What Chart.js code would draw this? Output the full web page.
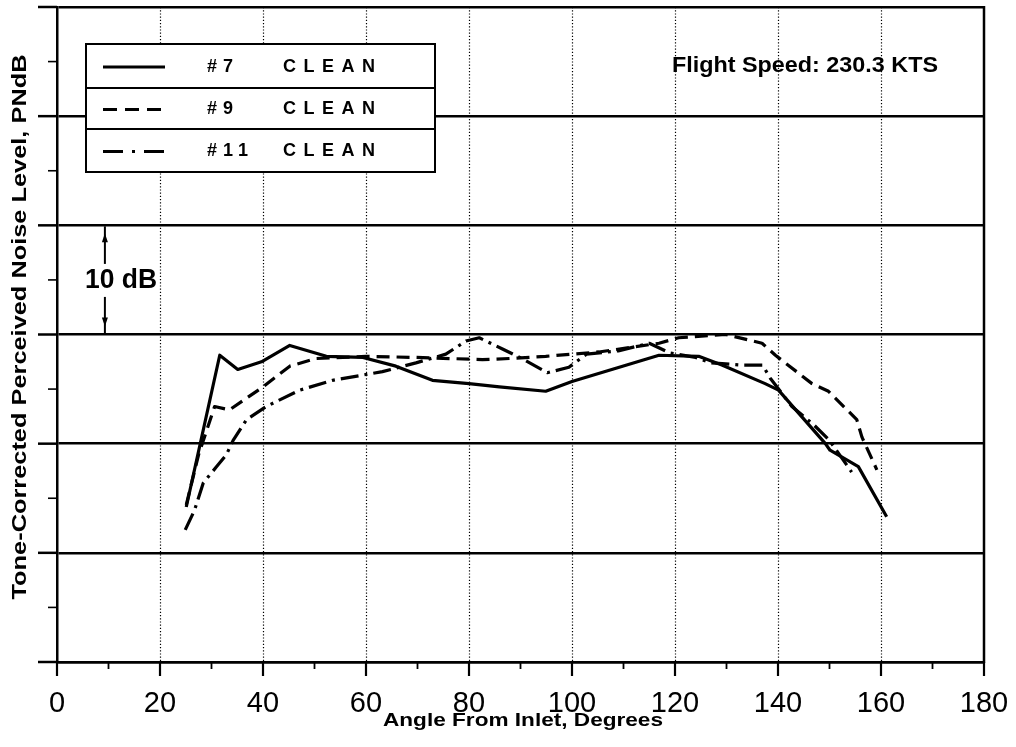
<!DOCTYPE html>
<html><head><meta charset="utf-8">
<script src="https://cdn.jsdelivr.net/npm/chart.js@4.4.1/dist/chart.umd.min.js"></script>
<style>html,body{margin:0;padding:0;background:#fff}#wrap{width:1016px;height:747px;position:relative}</style>
</head><body><div id="wrap"><canvas id="c"></canvas></div>
<script>
// ---- data (angle from inlet, degrees ; relative tone-corrected PNL, dB) ----
const angle7 = [25.1, 31.6, 35.1, 39.7, 45.2, 52.3, 59.4, 65.8, 72.9, 80, 85.9, 94.9, 100, 116.9, 124.6, 129.1, 137.5, 140.1, 144, 149.2, 150.1, 155.6, 161.1];
const level7 = [14.2, 28.1, 26.8, 27.5, 29.0, 28.0, 27.9, 27.1, 25.8, 25.5, 25.2, 24.8, 25.7, 28.1, 28.0, 27.2, 25.5, 24.9, 22.8, 20.0, 19.4, 17.9, 13.3];

const angle9 = [25.1, 27.5, 30.6, 33.5, 40, 45.2, 50.3, 60, 69.7, 82.6, 87.8, 94.9, 105.2, 116.9, 120.7, 129.8, 136.9, 139.5, 146.6, 149.8, 153.4, 155.3, 156.3, 159.2];
const level9 = [14.4, 19.0, 23.4, 23.1, 25.2, 27.1, 27.8, 28.0, 27.9, 27.7, 27.8, 28.0, 28.4, 29.2, 29.7, 30.0, 29.2, 28.1, 25.5, 24.8, 23.1, 22.2, 20.6, 17.6];

const angle11 = [24.9, 26.7, 28.4, 31, 32.9, 34.2, 36.8, 40.6, 47.1, 53.5, 63.2, 69.7, 75.5, 79.4, 82, 86.4, 90.3, 95.2, 99.4, 102.8, 109, 115, 119, 124, 127, 133, 137, 138.5, 142.7, 147, 150, 154.3];
const level11 = [12.1, 13.9, 16.4, 17.9, 19.0, 20.3, 22.2, 23.4, 24.9, 25.8, 26.6, 27.4, 28.2, 29.4, 29.7, 28.7, 27.8, 26.5, 27.0, 28.2, 28.5, 29.2, 28.3, 27.9, 27.4, 27.2, 27.2, 26.0, 23.4, 21.7, 20.3, 17.4];

const seriesNames = ['#7', '#9', '#11'];
const seriesNote = 'CLEAN';
const xTickValues = [0, 20, 40, 60, 80, 100, 120, 140, 160, 180];
const xTitle = 'Angle From Inlet, Degrees';
const yTitle = 'Tone-Corrected Perceived Noise Level, PNdB';
const speedNote = 'Flight Speed: 230.3 KTS';
const scaleNote = '10 dB';

// ---- styles ----
const dashes = [[], [13, 7], [18, 6, 3, 6]];
const legendDashes = [[], [14, 8], [20, 9, 3, 9]];
const toPts = (xs, ys) => xs.map((x, i) => ({x: x, y: ys[i]}));

function stretchText(ctx, text, x, y, font, width, align, rot) {
  ctx.save();
  ctx.font = font;
  const w = ctx.measureText(text).width;
  const s = width ? width / w : 1;
  ctx.translate(x, y);
  if (rot) ctx.rotate(rot);
  ctx.scale(s, 1);
  ctx.textAlign = align || 'center';
  ctx.textBaseline = 'middle';
  ctx.fillStyle = '#000';
  ctx.fillText(text, 0, 0);
  ctx.restore();
}

const decor = {
  id: 'decor',
  beforeDatasetsDraw(chart) {
    const {ctx, chartArea: a, scales: {x, y}} = chart;
    ctx.save();
    ctx.strokeStyle = '#000';
    ctx.lineWidth = 1.2;
    ctx.setLineDash([1.2, 2]);
    for (let v = 20; v < 180; v += 20) {
      const px = Math.round(x.getPixelForValue(v)) + 0.5;
      ctx.beginPath(); ctx.moveTo(px, a.top); ctx.lineTo(px, a.bottom); ctx.stroke();
    }
    ctx.setLineDash([]);
    ctx.lineWidth = 2.5;
    ctx.beginPath(); ctx.moveTo(a.right, a.top - 1); ctx.lineTo(a.right, a.bottom + 1); ctx.stroke();
    for (let v = 0; v <= 60; v += 5) {
      const py = y.getPixelForValue(v);
      const major = v % 10 === 0;
      ctx.lineWidth = major ? 2.5 : 1.6;
      ctx.beginPath(); ctx.moveTo(a.left - (major ? 19 : 9), py); ctx.lineTo(a.left, py); ctx.stroke();
    }
    for (let v = 0; v <= 180; v += 10) {
      const px = x.getPixelForValue(v);
      const major = v % 20 === 0;
      ctx.lineWidth = major ? 2.2 : 1.8;
      ctx.beginPath(); ctx.moveTo(px, a.bottom); ctx.lineTo(px, a.bottom + (major ? 14 : 7)); ctx.stroke();
    }
    ctx.restore();
  },
  afterDatasetsDraw(chart) {
    const {ctx, chartArea: a, scales: {x, y}} = chart;
    ctx.save();
    // legend box
    const L = a.left + 29, T = a.top + 37, R = a.left + 378, B = a.top + 165;
    const rows = [T, a.top + 81, a.top + 122, B];
    ctx.fillStyle = '#fff';
    ctx.fillRect(L, T, R - L, B - T);
    ctx.strokeStyle = '#000';
    ctx.lineWidth = 2;
    ctx.strokeRect(L, T, R - L, B - T);
    for (let i = 1; i < 3; i++) {
      ctx.beginPath(); ctx.moveTo(L, rows[i]); ctx.lineTo(R, rows[i]); ctx.stroke();
    }
    ctx.fillStyle = '#000';
    ctx.textBaseline = 'middle';
    ctx.textAlign = 'left';
    ctx.font = 'bold 18px "Liberation Sans", Arial, sans-serif';
    for (let i = 0; i < 3; i++) {
      const cy = (rows[i] + rows[i + 1]) / 2 + 1;
      ctx.lineWidth = 3.2;
      ctx.setLineDash(legendDashes[i]);
      ctx.beginPath(); ctx.moveTo(L + 17, cy); ctx.lineTo(L + 79, cy); ctx.stroke();
      ctx.setLineDash([]);
      ctx.letterSpacing = '6px';
      ctx.fillText(seriesNames[i], L + 121, cy);
      ctx.letterSpacing = '7.5px';
      ctx.fillText(seriesNote, L + 197, cy);
      ctx.letterSpacing = '0px';
    }
    // flight speed note
    stretchText(ctx, speedNote, 672, 66, 'bold 22px "Liberation Sans", Arial, sans-serif', 266, 'left');
    // 10 dB scale arrow
    const ax = x.getPixelForValue(9.3);
    const yTop = y.getPixelForValue(40), yBot = y.getPixelForValue(30);
    const yMid = (yTop + yBot) / 2;
    ctx.lineWidth = 2;
    ctx.strokeStyle = '#000';
    ctx.beginPath(); ctx.moveTo(ax, yTop + 1); ctx.lineTo(ax, yMid - 16); ctx.stroke();
    ctx.beginPath(); ctx.moveTo(ax, yMid + 17); ctx.lineTo(ax, yBot - 1); ctx.stroke();
    ctx.beginPath(); ctx.moveTo(ax, yTop + 8); ctx.lineTo(ax - 3, yTop + 17); ctx.lineTo(ax + 3, yTop + 17); ctx.closePath(); ctx.fill();
    ctx.beginPath(); ctx.moveTo(ax, yBot - 8); ctx.lineTo(ax - 3, yBot - 17); ctx.lineTo(ax + 3, yBot - 17); ctx.closePath(); ctx.fill();
    stretchText(ctx, scaleNote, 121, yMid + 1, 'bold 27px "Liberation Sans", Arial, sans-serif', 72, 'center');
    // axis titles
    stretchText(ctx, xTitle, 523, 721, 'bold 19px "Liberation Sans", Arial, sans-serif', 280, 'center');
    stretchText(ctx, yTitle, 20, 327, 'bold 21px "Liberation Sans", Arial, sans-serif', 545, 'center', -Math.PI / 2);
    ctx.restore();
  }
};

const mkSet = (xs, ys, i) => ({
  label: seriesNames[i] + ' ' + seriesNote,
  data: toPts(xs, ys),
  borderColor: '#000',
  backgroundColor: '#000',
  borderWidth: 3.2,
  borderDash: dashes[i],
  pointRadius: 0,
  tension: 0,
  fill: false,
  borderCapStyle: 'butt',
  borderJoinStyle: 'round'
});

new Chart(document.getElementById('c'), {
  type: 'line',
  data: {
    datasets: [mkSet(angle7, level7, 0), mkSet(angle9, level9, 1), mkSet(angle11, level11, 2)]
  },
  options: {
    responsive: true,
    maintainAspectRatio: false,
    animation: false,
    devicePixelRatio: 1,
    layout: {padding: {left: 0, top: 7, right: 32, bottom: 0}},
    plugins: {legend: {display: false}, tooltip: {enabled: false}},
    scales: {
      x: {
        type: 'linear', min: 0, max: 180,
        afterFit: s => { s.height = 85; s.paddingRight = 0; s.paddingLeft = 0; },
        afterBuildTicks: s => { s.ticks = xTickValues.map(v => ({value: v})); },
        grid: {display: false, drawTicks: false},
        border: {display: true, color: '#000', width: 2.5},
        ticks: {color: '#000', padding: 25, maxRotation: 0, autoSkip: false,
          font: {family: '"Liberation Sans", Arial, sans-serif', size: 29}}
      },
      y: {
        min: 0, max: 60,
        afterFit: s => { s.width = 57; s.paddingTop = 0; s.paddingBottom = 0; },
        ticks: {display: false, stepSize: 10},
        grid: {color: '#000', lineWidth: 2.5, drawTicks: false},
        border: {display: true, color: '#000', width: 2.5}
      }
    }
  },
  plugins: [decor]
});
</script>
</body></html>
